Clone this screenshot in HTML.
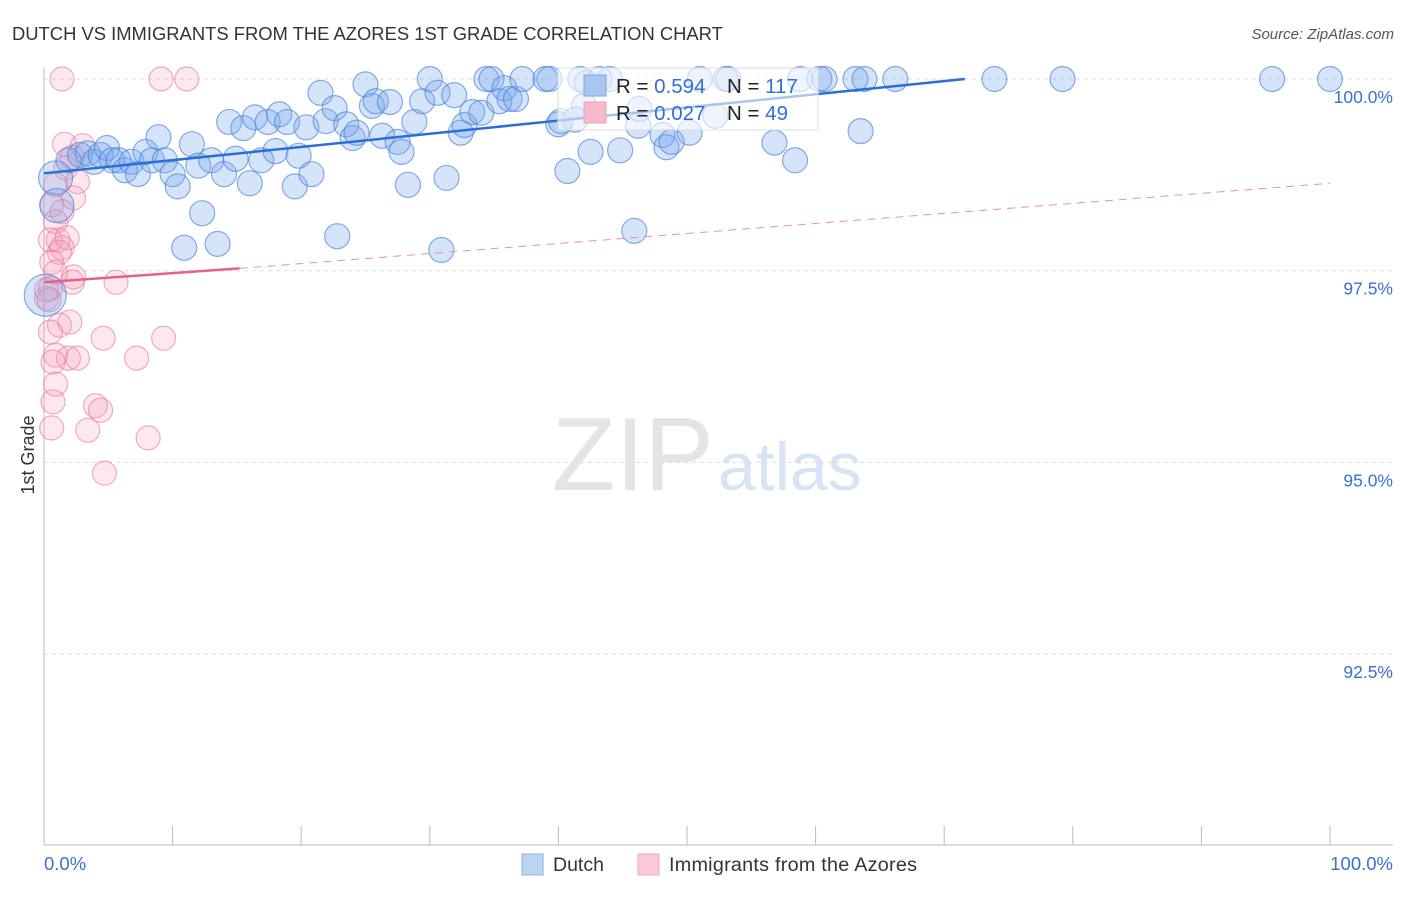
<!DOCTYPE html>
<html><head><meta charset="utf-8"><style>
body{margin:0;background:#fff;font-family:"Liberation Sans",sans-serif;}
svg text{font-family:"Liberation Sans",sans-serif;}
</style></head><body>
<svg id="chart" width="1406" height="892" xmlns="http://www.w3.org/2000/svg">
<text x="12" y="40" font-size="18.4" fill="#333">DUTCH VS IMMIGRANTS FROM THE AZORES 1ST GRADE CORRELATION CHART</text>
<text x="1394" y="39" font-size="15" font-style="italic" fill="#555" text-anchor="end">Source: ZipAtlas.com</text>
<text x="552" y="490" font-size="104" font-family="Liberation Serif" fill="#e4e4e4">ZIP</text>
<text x="718" y="490" font-size="68" fill="#d6e4f6">atlas</text>
<text transform="translate(34,455) rotate(-90)" font-size="18" fill="#333" text-anchor="middle">1st Grade</text>
<g id="grid"></g><g id="axes"></g><g id="pink"></g><g id="blue"></g><g id="lines"></g>
<g>
<rect x="558" y="68" width="260" height="62" fill="#fff" fill-opacity="0.6" stroke="#ddd"/>
<rect x="584" y="75" width="22" height="21" fill="#a9c6f0" stroke="#7aa6e6"/>
<rect x="584" y="102" width="22" height="21" fill="#f7b9cb" stroke="#eea0b8"/>
<text x="616" y="93" font-size="20.5" fill="#222">R = <tspan fill="#2f6fd6">0.594</tspan><tspan x="727">N = </tspan><tspan fill="#2f6fd6">117</tspan></text>
<text x="616" y="120" font-size="20.5" fill="#222">R = <tspan fill="#2f6fd6">0.027</tspan><tspan x="727">N = </tspan><tspan fill="#2f6fd6"> 49</tspan></text>
</g>
<g>
<rect x="522" y="854" width="21" height="21" fill="#bcd3f4" stroke="#8ab0e8"/>
<text x="553" y="871" font-size="19.5" fill="#333">Dutch</text>
<rect x="638" y="854" width="21" height="21" fill="#f9c9d7" stroke="#f0a6bd"/>
<text x="669" y="871" font-size="19.8" fill="#333" textLength="248">Immigrants from the Azores</text>
</g>
</svg>
<script>
const yTicks=[100,97.5,95,92.5];
const yTickLabels=["100.0%","97.5%","95.0%","92.5%"];
const xTickLabels=["0.0%","100.0%"];
const blueX=[1.9,2.8,3.4,3.9,4.4,4.9,5.3,5.8,6.3,6.8,7.3,7.9,8.4,8.9,9.4,10.0,10.4,10.9,11.5,12.0,12.3,13.0,13.5,14.0,14.4,14.9,15.5,16.0,16.4,16.9,17.4,18.0,18.3,18.9,19.5,19.8,20.4,20.8,21.5,21.9,22.6,22.8,23.5,24.0,24.3,25.0,25.5,25.8,26.3,26.9,27.5,27.8,28.3,28.8,29.4,30.0,30.6,30.9,31.3,31.9,32.4,32.7,33.3,34.0,34.4,34.8,35.4,35.8,36.2,36.7,37.2,39.0,39.3,40.0,40.2,40.7,41.7,42.2,42.5,43.2,44.0,44.8,45.9,46.2,48.1,48.4,48.8,50.2,51.0,53.0,53.2,56.8,58.4,58.8,60.3,60.7,63.1,63.5,63.8,66.2,73.9,79.2,95.5,100,42.0,41.3,52.2,46.3,0.9,0.1,1.0];
const blueY=[98.94,99.01,99.03,98.92,99.01,99.10,98.94,98.94,98.81,98.92,98.76,99.05,98.94,99.24,98.94,98.76,98.60,97.80,99.15,98.87,98.25,98.94,97.85,98.76,99.44,98.96,99.36,98.64,99.50,98.94,99.44,99.06,99.54,99.44,98.60,99.00,99.37,98.76,99.82,99.45,99.62,97.95,99.41,99.23,99.30,99.93,99.65,99.71,99.26,99.70,99.18,99.05,98.62,99.44,99.71,100,99.82,97.77,98.71,99.79,99.30,99.40,99.57,99.56,100,100,99.71,99.88,99.74,99.74,100,100,100,99.41,99.45,98.80,100,99.95,99.05,100,100,99.07,98.02,99.39,99.27,99.11,99.18,99.30,100,100,100,99.17,98.94,100,100,100,100,99.32,100,100,100,100,100,100,99.65,99.47,99.52,99.61,98.71,97.18,98.35];
const blueSize=blueY.map((v,i)=>i>=blueY.length-3?(i===blueY.length-2?21:17):12.5);
const pinkX=[1.4,9.1,11.1,1.6,3.0,2.2,1.7,2.6,0.9,2.3,0.6,1.4,0.9,0.5,1.1,1.8,1.4,1.2,0.6,0.9,2.3,2.2,5.6,0.5,0.2,1.2,2.0,0.5,4.6,9.3,0.9,1.9,2.6,7.2,0.7,0.9,0.7,4.0,4.4,0.6,3.4,8.1,4.7,0.2,0.4];
const pinkY=[100,100,100,99.15,99.13,98.98,98.84,98.66,98.62,98.45,98.36,98.27,98.14,97.90,97.90,97.93,97.80,97.74,97.61,97.48,97.42,97.35,97.35,97.27,97.14,96.79,96.83,96.70,96.62,96.62,96.40,96.36,96.36,96.36,96.31,96.02,95.79,95.74,95.68,95.45,95.42,95.32,94.86,97.25,97.12];
const blueLine=[0,98.77,71.6,100];
const pinkSolid=[0,97.35,15.2,97.53];
const pinkDash=[15.2,97.53,100,98.64];
const X=v=>44+v*12.86, Y=v=>79+(100-v)*76.68;
const NS="http://www.w3.org/2000/svg";
function mk(tag,attrs,parent){const e=document.createElementNS(NS,tag);for(const k in attrs)e.setAttribute(k,attrs[k]);document.getElementById(parent).appendChild(e);return e;}
yTicks.forEach((t,i)=>{
 const g=mk('line',{x1:44,x2:1393,y1:Y(t),y2:Y(t),stroke:'#ddd','stroke-dasharray':'4,4'},'grid');
 
 
 const l=mk('text',{x:1393,y:Y(t)+24,'font-size':17.5,fill:'#3a70d0','text-anchor':'end'},'axes');
 l.textContent=yTickLabels[i];
 
 
});
const ax=mk('line',{x1:44,x2:44,y1:68,y2:845,stroke:'#bbb'},'axes');


const bx=mk('line',{x1:44,x2:1393,y1:845,y2:845,stroke:'#bbb'},'axes');


for(let i=0;i<=10;i++){const t=mk('line',{x1:X(i*10),x2:X(i*10),y1:826,y2:845,stroke:'#bbb'},'axes');
 
 }
const xl0=mk('text',{x:44,y:870,'font-size':18.5,fill:'#3a70d0'},'axes');xl0.textContent=xTickLabels[0];


const xl1=mk('text',{x:1393,y:870,'font-size':18.5,fill:'#3a70d0','text-anchor':'end'},'axes');xl1.textContent=xTickLabels[1];


pinkX.forEach((v,i)=>{const c=mk('circle',{cx:X(v),cy:Y(pinkY[i]),r:12,fill:'rgba(244,150,180,0.22)',stroke:'rgba(232,120,155,0.6)','stroke-width':1.2},'pink');
 
 });
blueX.forEach((v,i)=>{const c=mk('circle',{cx:X(v),cy:Y(blueY[i]),r:blueSize[i],fill:'rgba(120,165,235,0.3)',stroke:'rgba(70,130,220,0.65)','stroke-width':1.2},'blue');
 
 });
const bl=mk('line',{x1:X(blueLine[0]),y1:Y(blueLine[1]),x2:X(blueLine[2]),y2:Y(blueLine[3]),stroke:'#2a6fd6','stroke-width':2.5},'lines');


const ps=mk('line',{x1:X(pinkSolid[0]),y1:Y(pinkSolid[1]),x2:X(pinkSolid[2]),y2:Y(pinkSolid[3]),stroke:'#e8608a','stroke-width':2.5},'lines');


const pd=mk('line',{x1:X(pinkDash[0]),y1:Y(pinkDash[1]),x2:X(pinkDash[2]),y2:Y(pinkDash[3]),stroke:'#e890aa','stroke-width':1,'stroke-dasharray':'8,6'},'lines');


</script>
</body></html>
